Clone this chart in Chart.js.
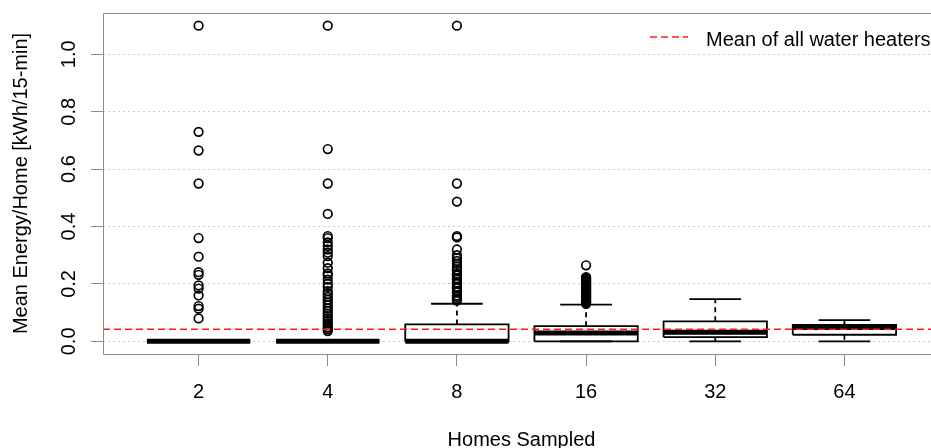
<!DOCTYPE html>
<html><head><meta charset="utf-8">
<script src="https://cdn.jsdelivr.net/npm/chart.js@4/dist/chart.umd.min.js"></script>
<style>
html,body{margin:0;padding:0;background:#fff;overflow:hidden;width:931px;height:448px}
#wrap{position:relative;width:946px;height:448px}
canvas{display:block}
</style>
</head><body><div id="wrap"><canvas id="c" width="946" height="448"></canvas></div>
<script>
// ---- data ----
const categories = ['2', '4', '8', '16', '32', '64'];
const whiskerLow  = [0, 0, 0, 0, 0, 0];
const q1          = [0, 0, 0, 0, 0.015, 0.023];
const median      = [0, 0, 0, 0.029, 0.032, 0.048];
const q3          = [0, 0, 0.059, 0.053, 0.070, 0.057];
const whiskerHigh = [0, 0, 0.131, 0.128, 0.147, 0.074];

const outliers2 = [1.10, 0.73, 0.665, 0.55, 0.36, 0.295, 0.241, 0.232, 0.195, 0.184, 0.16, 0.123, 0.114, 0.08];
const outliers4 = [1.10, 0.67, 0.55, 0.444, 0.367, 0.36, 0.345, 0.332, 0.32, 0.309, 0.297, 0.274, 0.255, 0.237,
  0.23, 0.215, 0.2, 0.19, 0.175, 0.165, 0.155, 0.145, 0.135, 0.125, 0.115, 0.106, 0.097, 0.088, 0.08,
  0.071, 0.063, 0.056, 0.048, 0.042, 0.036];
const outliers8 = [1.10, 0.55, 0.487, 0.367, 0.362, 0.32, 0.30, 0.29, 0.28, 0.27, 0.26, 0.25, 0.245, 0.235,
  0.23, 0.22, 0.215, 0.205, 0.2, 0.19, 0.185, 0.175, 0.17, 0.16, 0.155, 0.148, 0.142];
const outliers16 = [0.265, 0.224, 0.221, 0.218, 0.215, 0.212, 0.209, 0.206, 0.203, 0.2, 0.197, 0.194, 0.191,
  0.188, 0.185, 0.182, 0.179, 0.176, 0.173, 0.17, 0.167, 0.164, 0.161, 0.158, 0.155, 0.152, 0.149, 0.146,
  0.143, 0.14, 0.137, 0.134, 0.131];
const outliers32 = [];
const outliers64 = [];
const outlierGroups = [outliers2, outliers4, outliers8, outliers16, outliers32, outliers64];

const meanAllHeaters = 0.042;
const legendLabel = 'Mean of all water heaters';
const yTickValues = [0, 0.2, 0.4, 0.6, 0.8, 1.0];
const xTitle = 'Homes Sampled';
const yTitle = 'Mean Energy/Home [kWh/15-min]';

// ---- layout / style constants ----
const X_MIN = 0.26, X_MAX = 6.74, Y_MIN = -0.044, Y_MAX = 1.144;
const BOX_HALF = 0.4, CAP_HALF = 0.2;
const FONT = '"Liberation Sans", Arial, Helvetica, sans-serif';
const RED = '#ff1a1a';
const GREY = '#8c8c8c';

// ---- build datasets from the arrays ----
const pos = categories.map((c, i) => i + 1);
const boxPts = [], medPts = [], whiskPts = [], capPts = [], outPts = [];
pos.forEach((x, i) => {
  boxPts.push({x: x - BOX_HALF, y: q1[i]}, {x: x + BOX_HALF, y: q1[i]}, {x: x + BOX_HALF, y: q3[i]},
              {x: x - BOX_HALF, y: q3[i]}, {x: x - BOX_HALF, y: q1[i]}, {x: x, y: null});
  medPts.push({x: x - BOX_HALF, y: median[i]}, {x: x + BOX_HALF, y: median[i]}, {x: x, y: null});
  whiskPts.push({x: x, y: q3[i]}, {x: x, y: whiskerHigh[i]}, {x: x, y: null},
                {x: x, y: q1[i]}, {x: x, y: whiskerLow[i]}, {x: x, y: null});
  capPts.push({x: x - CAP_HALF, y: whiskerHigh[i]}, {x: x + CAP_HALF, y: whiskerHigh[i]}, {x: x, y: null},
              {x: x - CAP_HALF, y: whiskerLow[i]}, {x: x + CAP_HALF, y: whiskerLow[i]}, {x: x, y: null});
  outlierGroups[i].forEach(v => outPts.push({x: x, y: v}));
});

const lineDs = (data, width, dash) => ({
  data, showLine: true, pointRadius: 0, borderColor: '#000', borderWidth: width,
  borderDash: dash || [], spanGaps: false, fill: false, borderCapStyle: 'butt'
});

const framePlugin = {
  id: 'frameAndLegend',
  afterDraw(chart) {
    const {ctx, chartArea: ca} = chart;
    ctx.save();
    ctx.strokeStyle = GREY; ctx.lineWidth = 1; ctx.setLineDash([]);
    ctx.strokeRect(Math.round(ca.left) + 0.5, Math.round(ca.top) + 0.5,
                   Math.round(ca.right - ca.left) - 1, Math.round(ca.bottom - ca.top));
    // legend (top right, inside the plot)
    ctx.strokeStyle = RED; ctx.lineWidth = 1.4; ctx.setLineDash([7, 4]);
    ctx.beginPath();
    ctx.moveTo(ca.right - 290, ca.top + 24);
    ctx.lineTo(ca.right - 252, ca.top + 24);
    ctx.stroke();
    ctx.setLineDash([]);
    ctx.fillStyle = '#000';
    ctx.font = '20px ' + FONT;
    ctx.textAlign = 'left'; ctx.textBaseline = 'alphabetic';
    ctx.fillText(legendLabel, ca.right - 234, ca.top + 33);
    ctx.restore();
  }
};

new Chart(document.getElementById('c'), {
  type: 'scatter',
  data: {
    datasets: [
      {data: [{x: X_MIN, y: meanAllHeaters}, {x: X_MAX, y: meanAllHeaters}], showLine: true, pointRadius: 0,
       borderColor: RED, borderWidth: 1.4, borderDash: [7, 4], fill: false, label: legendLabel},
      {data: outPts, pointStyle: 'circle', pointRadius: 4.3, pointBorderWidth: 1.7,
       pointBorderColor: '#000', pointBackgroundColor: 'rgba(0,0,0,0)', showLine: false},
      lineDs(medPts, 5),
      lineDs(boxPts, 1.8),
      lineDs(whiskPts, 1.8, [5, 4]),
      lineDs(capPts, 1.8)
    ]
  },
  options: {
    responsive: false,
    animation: false,
    devicePixelRatio: 1,
    layout: {padding: {top: 13, left: 0, right: 0, bottom: 0}},
    plugins: {legend: {display: false}, tooltip: {enabled: false}},
    scales: {
      x: {
        type: 'linear', min: X_MIN, max: X_MAX,
        afterFit: s => { s.height = 94; s.paddingLeft = 0; s.paddingRight = 0; s.paddingTop = 0; s.paddingBottom = 0; },
        afterBuildTicks: s => { s.ticks = pos.map(v => ({value: v})); },
        grid: {drawOnChartArea: false, drawTicks: true, tickLength: 12, tickColor: GREY, tickWidth: 1},
        border: {display: false},
        ticks: {autoSkip: false, maxRotation: 0, padding: 14, color: '#000',
                font: {family: FONT, size: 20},
                callback: (v, i) => categories[i]},
        title: {display: true, text: xTitle, color: '#000', font: {family: FONT, size: 20},
                padding: {top: 0, bottom: -4}}
      },
      y: {
        type: 'linear', min: Y_MIN, max: Y_MAX,
        afterFit: s => { s.width = 103; s.paddingLeft = 0; s.paddingRight = 0; s.paddingTop = 0; s.paddingBottom = 0; },
        afterBuildTicks: s => { s.ticks = yTickValues.map(v => ({value: v})); },
        grid: {color: '#cccccc', lineWidth: 1, drawTicks: true, tickLength: 12, tickColor: GREY, tickWidth: 1,
               tickBorderDash: []},
        border: {display: false, dash: [2, 3]},
        ticks: {autoSkip: false, minRotation: 90, maxRotation: 90, crossAlign: 'center', padding: 8,
                color: '#000', font: {family: FONT, size: 20},
                callback: v => v.toFixed(1)},
        title: {display: true, text: yTitle, color: '#000', font: {family: FONT, size: 20},
                padding: {top: 9, bottom: 0}}
      }
    }
  },
  plugins: [framePlugin]
});
</script>
</body></html>
